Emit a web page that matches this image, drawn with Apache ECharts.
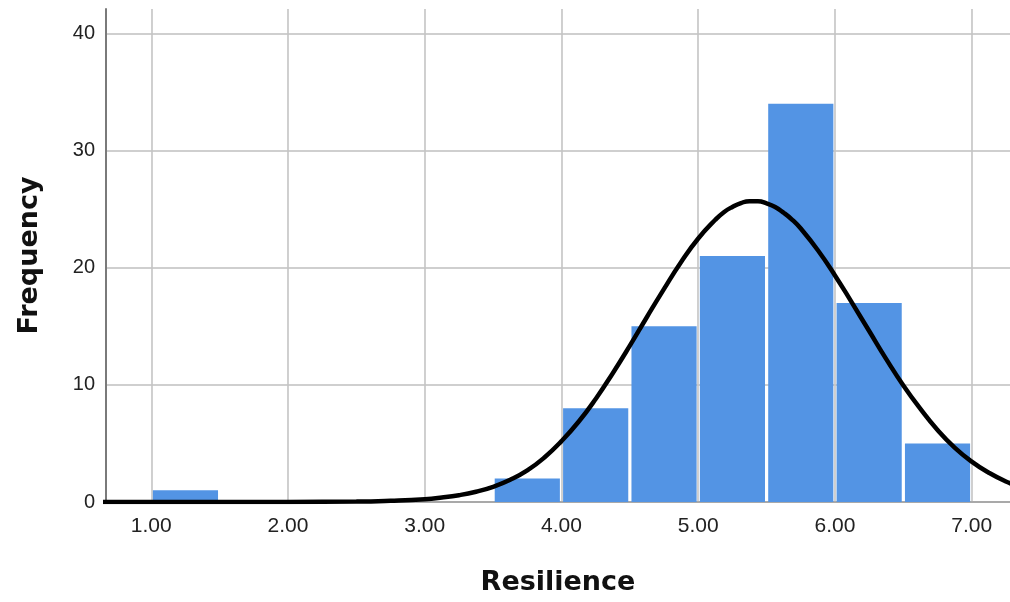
<!DOCTYPE html>
<html>
<head>
<meta charset="utf-8">
<script src="https://cdn.jsdelivr.net/npm/echarts@6/dist/echarts.min.js"></script>
<style>
  html, body { margin: 0; padding: 0; background: #fff; }
  #chart { width: 1010px; height: 602px; }
</style>
</head>
<body>
<div id="chart"></div>
<script>
// Histogram bins (lower edge, upper edge) and their frequencies
const binLower = [1.0, 3.5, 4.0, 4.5, 5.0, 5.5, 6.0, 6.5];
const binUpper = [1.5, 4.0, 4.5, 5.0, 5.5, 6.0, 6.5, 7.0];
const frequency = [1, 2, 8, 15, 21, 34, 17, 5];

// Fitted normal curve, sampled along the Resilience axis (denser near the peak)
const curveX = [0.6, 1.0, 1.5, 2.0, 2.5, 2.75, 3.0, 3.125, 3.25, 3.375, 3.5, 3.625, 3.75, 3.875,
  4.0, 4.125, 4.25, 4.375, 4.5, 4.625, 4.75, 4.875, 5.0, 5.125, 5.1875, 5.25, 5.3125, 5.375, 5.4375,
  5.5, 5.5625, 5.625, 5.6875, 5.75, 5.875,
  6.0, 6.125, 6.25, 6.375, 6.5, 6.625, 6.75, 6.875, 7.0, 7.125, 7.25, 7.375];
const curveY = [0.0, 0.0, 0.0, 0.01, 0.04, 0.11, 0.24, 0.38, 0.58, 0.88, 1.3, 1.9, 2.7, 3.8,
  5.2, 6.85, 8.8, 11.0, 13.35, 15.8, 18.2, 20.5, 22.5, 24.1, 24.75, 25.2, 25.53, 25.69, 25.68,
  25.5, 25.19, 24.7, 24.1, 23.35, 21.5,
  19.35, 17.0, 14.6, 12.2, 9.95, 7.95, 6.15, 4.65, 3.45, 2.5, 1.75, 1.2];

// Axis ticks
const xTicks = [1, 2, 3, 4, 5, 6, 7];
const yTicks = [0, 10, 20, 30, 40];

const barData = binLower.map((lo, i) => [lo, binUpper[i], frequency[i]]);
const curveData = curveX.map((x, i) => [x, curveY[i]]);

const chart = echarts.init(document.getElementById('chart'), null, { renderer: 'canvas' });

const labelFont = 'Liberation Sans, Arial, sans-serif';
const titleFont = 'DejaVu Sans, Liberation Sans, sans-serif';

chart.setOption({
  animation: false,
  backgroundColor: '#ffffff',
  grid: { left: 106, top: 9, right: 0, bottom: 100, containLabel: false, outerBoundsMode: 'none' },
  xAxis: {
    type: 'value',
    min: 0.669,
    max: 7.28,
    name: 'Resilience',
    nameLocation: 'middle',
    nameGap: 67,
    nameTextStyle: { fontFamily: titleFont, fontWeight: 'bold', fontSize: 27, color: '#111' },
    axisLine: { show: true, onZero: false, lineStyle: { color: '#a9a9a9', width: 2 } },
    axisTick: { show: false, customValues: xTicks },
    axisLabel: {
      customValues: xTicks,
      formatter: v => v.toFixed(2),
      fontFamily: labelFont, fontSize: 21, color: '#222', margin: 14
    },
    splitLine: { show: true, lineStyle: { color: '#c4c4c4', width: 1.6 } }
  },
  yAxis: {
    type: 'value',
    min: 0,
    max: 42.1,
    name: 'Frequency',
    nameLocation: 'middle',
    nameGap: 63,
    nameRotate: 90,
    nameTextStyle: { fontFamily: titleFont, fontWeight: 'bold', fontSize: 27, color: '#111' },
    axisLine: { show: true, lineStyle: { color: '#7a7a7a', width: 2 } },
    axisTick: { show: false, customValues: yTicks },
    axisLabel: {
      customValues: yTicks,
      fontFamily: labelFont, fontSize: 20, color: '#222', margin: 11
    },
    splitLine: { show: true, lineStyle: { color: '#cfcfcf', width: 2 } }
  },
  series: [
    {
      type: 'custom',
      data: barData,
      z: 2,
      renderItem: function (params, api) {
        const lo = api.coord([api.value(0), api.value(2)]);
        const hi = api.coord([api.value(1), 0]);
        const inset = 1.6;
        return {
          type: 'rect',
          shape: {
            x: lo[0] + inset,
            y: lo[1],
            width: hi[0] - lo[0] - 2 * inset,
            height: hi[1] - lo[1]
          },
          style: { fill: '#5394e4' }
        };
      }
    },
    {
      type: 'line',
      data: curveData,
      smooth: 0.5,
      showSymbol: false,
      clip: true,
      z: 5,
      lineStyle: { color: '#000', width: 4.5 }
    }
  ]
});
</script>
</body>
</html>
